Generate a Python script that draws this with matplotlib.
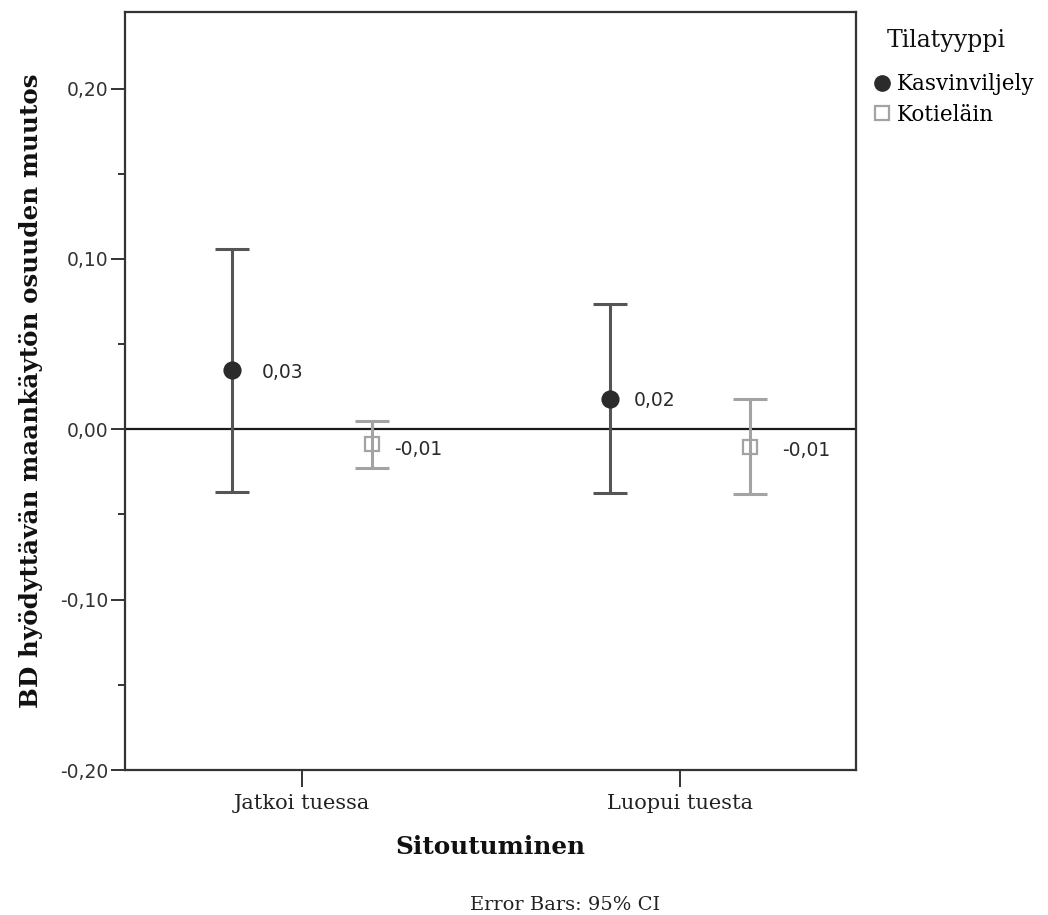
import matplotlib
matplotlib.use("Agg")
import matplotlib.pyplot as plt
import numpy as np
from matplotlib.lines import Line2D
from matplotlib.ticker import MultipleLocator, FuncFormatter

categories = ["Jatkoi tuessa", "Luopui tuesta"]
groups = ["Kasvinviljely", "Kotieläin"]
means_kasvi = [0.0347, 0.0180]
lower_kasvi = [-0.0369, -0.0371]
upper_kasvi = [0.1057, 0.0735]
means_koti = [-0.0084, -0.0104]
lower_koti = [-0.0228, -0.0378]
upper_koti = [0.0049, 0.0176]
labels_kasvi = ["0,03", "0,02"]
labels_koti = ["-0,01", "-0,01"]

serif = ["DejaVu Serif"]
sans = ["DejaVu Sans"]

fig = plt.figure(figsize=(10.48, 9.15), dpi=100)
ax = fig.add_axes([125/1048, 1 - 770/915, (856-125)/1048, (770-12)/915])

x = np.arange(len(categories))
off = 0.185

col_k = "#555555"
col_t = "#a3a3a3"

def draw(xs, m, lo, hi, color, marker, mfc, mec, ms):
    m = np.array(m); lo = np.array(lo); hi = np.array(hi)
    ax.errorbar(xs, m, yerr=[m - lo, hi - m], fmt="none", ecolor=color,
                elinewidth=2.2, capsize=12.5, capthick=2.2, zorder=3)
    ax.plot(xs, m, linestyle="none", marker=marker, markersize=ms,
            markerfacecolor=mfc, markeredgecolor=mec, markeredgewidth=1.6, zorder=4)

ax.axhline(0, color="#1a1a1a", lw=1.6, zorder=2)
draw(x - off, means_kasvi, lower_kasvi, upper_kasvi, col_k, "o", "#2b2b2b", "#2b2b2b", 11.5)
draw(x + off, means_koti, lower_koti, upper_koti, col_t, "s", "none", col_t, 10.5)

lab_dx_k = [30, 24]
lab_dx_t = [22, 32]
lab_dy_t = [-6, -3]
for i in range(len(categories)):
    ax.annotate(labels_kasvi[i], (x[i] - off, means_kasvi[i]), xytext=(lab_dx_k[i], -2),
                textcoords="offset pixels", ha="left", va="center", fontsize=13.5,
                family=sans, color="#2a2a2a")
    ax.annotate(labels_koti[i], (x[i] + off, means_koti[i]), xytext=(lab_dx_t[i], lab_dy_t[i]),
                textcoords="offset pixels", ha="left", va="center", fontsize=13.5,
                family=sans, color="#2a2a2a")

ax.set_xlim(-0.468, 1.466)
ax.set_ylim(-0.2, 0.245)
ax.set_xticks(x)
ax.set_xticklabels(categories, family=serif, fontsize=15, color="#222222")
ax.yaxis.set_major_locator(MultipleLocator(0.1))
ax.yaxis.set_minor_locator(MultipleLocator(0.05))
ax.yaxis.set_major_formatter(FuncFormatter(lambda v, p: f"{v:.2f}".replace(".", ",").replace("-0,00", "0,00")))
for t in ax.get_yticklabels():
    t.set_family(sans)
ax.tick_params(axis="y", which="major", length=10, width=1.4, labelsize=13.5, labelcolor="#333333", color="#333333", pad=2)
ax.tick_params(axis="y", which="minor", length=5, width=1.4, color="#333333")
ax.tick_params(axis="x", which="major", length=12, width=1.4, color="#333333", pad=5)
for s in ax.spines.values():
    s.set_color("#333333")
    s.set_linewidth(1.6)

ax.set_ylabel("BD hyödyttävän maankäytön osuuden muutos", family=serif, fontweight="bold",
              fontsize=17.7, color="#111111", labelpad=12)
ax.set_xlabel("Sitoutuminen", family=serif, fontweight="bold", fontsize=17.8, color="#111111", labelpad=16)

fig.text(565/1048, 1 - 905/915, "Error Bars: 95% CI", family=serif, fontsize=14, ha="center", va="center", color="#222222")

fig.text(887/1048, 1 - 40/915, "Tilatyyppi", family=serif, fontsize=17, ha="left", va="center", color="#111111")
handles = [Line2D([], [], linestyle="none", marker="o", markersize=11, markerfacecolor="#2b2b2b", markeredgecolor="#2b2b2b"),
           Line2D([], [], linestyle="none", marker="s", markersize=10, markerfacecolor="white", markeredgecolor=col_t, markeredgewidth=1.6)]
leg = fig.legend(handles, groups, loc="upper left", bbox_to_anchor=(858/1048, 1 - 58/915),
                 frameon=False, prop={"family": serif, "size": 15.5}, handlelength=0.8,
                 handletextpad=0.3, labelspacing=0.4, borderpad=0.2)

fig.savefig("out.png", dpi=100)
